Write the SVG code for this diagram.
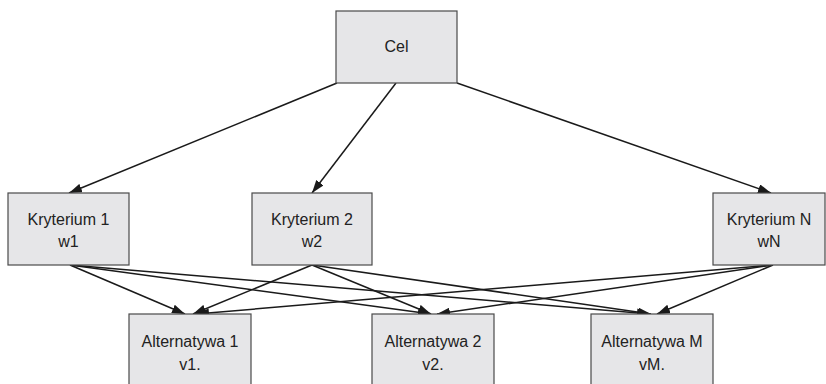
<svg xmlns="http://www.w3.org/2000/svg" width="826" height="384" viewBox="0 0 826 384">
  <style>
    .box { fill: #e6e6e8; stroke: #4a4a4a; stroke-width: 1.2; }
    .lbl { font-family: "Liberation Sans", Arial, sans-serif; font-size: 16px; fill: #222; text-anchor: middle; }
    .edge { stroke: #1a1a1a; stroke-width: 1.5; fill: none; marker-end: url(#arrow); }
  </style>
  <defs>
    <marker id="arrow" viewBox="0 0 13 9" refX="13" refY="4.5" markerWidth="13" markerHeight="9" markerUnits="userSpaceOnUse" orient="auto">
      <path d="M0,0 L13,4.5 L0,9 Z" fill="#1a1a1a"/>
    </marker>
  </defs>

  <rect width="826" height="384" fill="#ffffff"/>

  <g id="connectors">
    <!-- goal to criteria -->
    <line class="edge" x1="337" y1="83" x2="69" y2="193"/>
    <line class="edge" x1="396" y1="83" x2="312" y2="193"/>
    <line class="edge" x1="457" y1="83" x2="771" y2="193"/>
    <!-- criteria to alternatives -->
    <line class="edge" x1="70" y1="265" x2="185" y2="314"/>
    <line class="edge" x1="70" y1="265" x2="431" y2="314"/>
    <line class="edge" x1="70" y1="265" x2="650" y2="314"/>
    <line class="edge" x1="312" y1="265" x2="193" y2="314"/>
    <line class="edge" x1="312" y1="265" x2="431" y2="314"/>
    <line class="edge" x1="312" y1="265" x2="651" y2="314"/>
    <line class="edge" x1="773" y1="265" x2="196" y2="314"/>
    <line class="edge" x1="773" y1="265" x2="437" y2="314"/>
    <line class="edge" x1="773" y1="265" x2="657" y2="314"/>
  </g>

  <g id="cel">
    <rect class="box" x="336" y="11" width="121" height="72"/>
    <text class="lbl" x="396.5" y="52">Cel</text>
  </g>

  <g id="kryterium1">
    <rect class="box" x="8" y="193" width="121" height="72"/>
    <text class="lbl" x="68.5" y="225">Kryterium 1</text>
    <text class="lbl" x="68.5" y="247">w1</text>
  </g>

  <g id="kryterium2">
    <rect class="box" x="252" y="193" width="120" height="72"/>
    <text class="lbl" x="312" y="225">Kryterium 2</text>
    <text class="lbl" x="312" y="247">w2</text>
  </g>

  <g id="kryteriumN">
    <rect class="box" x="713" y="193" width="112" height="72"/>
    <text class="lbl" x="769" y="225">Kryterium N</text>
    <text class="lbl" x="769" y="247">wN</text>
  </g>

  <g id="alternatywa1">
    <rect class="box" x="129" y="314" width="122" height="74"/>
    <text class="lbl" x="190" y="347">Alternatywa 1</text>
    <text class="lbl" x="190" y="370">v1.</text>
  </g>

  <g id="alternatywa2">
    <rect class="box" x="372" y="314" width="122" height="74"/>
    <text class="lbl" x="433" y="347">Alternatywa 2</text>
    <text class="lbl" x="433" y="370">v2.</text>
  </g>

  <g id="alternatywaM">
    <rect class="box" x="591" y="314" width="122" height="74"/>
    <text class="lbl" x="652" y="347">Alternatywa M</text>
    <text class="lbl" x="652" y="370">vM.</text>
  </g>
</svg>
